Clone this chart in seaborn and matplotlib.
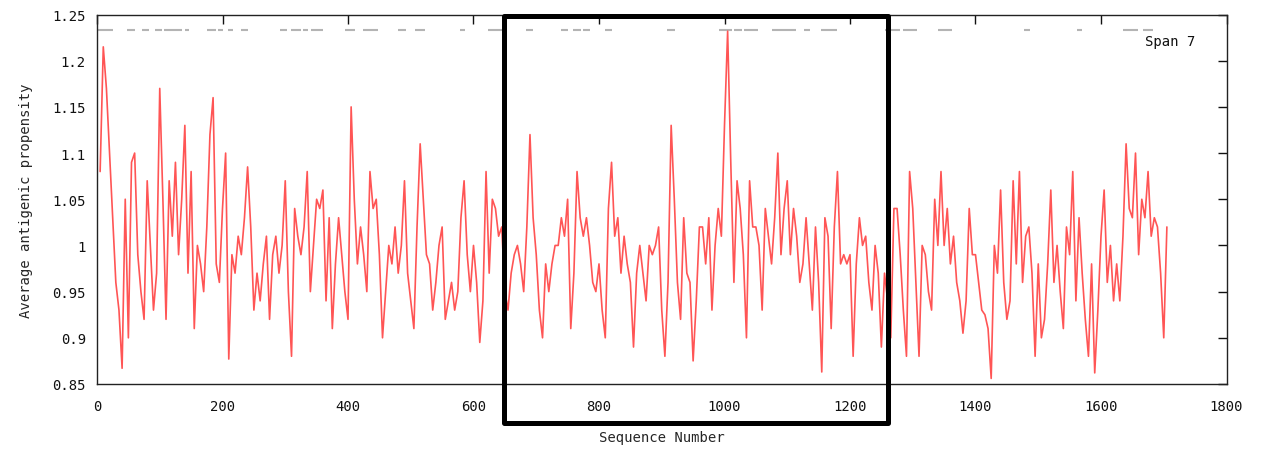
import numpy as np
import pandas as pd
import matplotlib
matplotlib.use("Agg")
import matplotlib.pyplot as plt
from matplotlib.patches import Rectangle
import seaborn as sns

# average antigenic propensity, every 5 residues (5 .. 1705)
propensity = [
    1.08, 1.215, 1.17, 1.10, 1.03, 0.96, 0.93, 0.867, 1.05, 0.90,
    1.09, 1.10, 0.99, 0.95, 0.92, 1.07, 1.00, 0.93, 0.97, 1.17,
    1.05, 0.92, 1.07, 1.01, 1.09, 0.99, 1.05, 1.13, 0.97, 1.08,
    0.91, 1.00, 0.98, 0.95, 1.02, 1.12, 1.16, 0.98, 0.96, 1.04,
    1.10, 0.877, 0.99, 0.97, 1.01, 0.99, 1.03, 1.085, 1.02, 0.93,
    0.97, 0.94, 0.98, 1.01, 0.92, 0.99, 1.01, 0.97, 1.00, 1.07,
    0.95, 0.88, 1.04, 1.01, 0.99, 1.02, 1.08, 0.95, 1.00, 1.05,
    1.04, 1.06, 0.94, 1.03, 0.91, 0.98, 1.03, 0.99, 0.95, 0.92,
    1.15, 1.05, 0.98, 1.02, 0.99, 0.95, 1.08, 1.04, 1.05, 0.99,
    0.90, 0.95, 1.00, 0.98, 1.02, 0.97, 1.00, 1.07, 0.97, 0.94,
    0.91, 1.02, 1.11, 1.05, 0.99, 0.98, 0.93, 0.96, 1.00, 1.02,
    0.92, 0.94, 0.96, 0.93, 0.95, 1.03, 1.07, 0.99, 0.95, 1.00,
    0.96, 0.895, 0.94, 1.08, 0.97, 1.05, 1.04, 1.01, 1.02, 0.95,
    0.93, 0.97, 0.99, 1.00, 0.98, 0.95, 1.02, 1.12, 1.03, 0.99,
    0.93, 0.90, 0.98, 0.95, 0.98, 1.00, 1.00, 1.03, 1.01, 1.05,
    0.91, 0.97, 1.08, 1.03, 1.01, 1.03, 1.00, 0.96, 0.95, 0.98,
    0.93, 0.90, 1.04, 1.09, 1.01, 1.03, 0.97, 1.01, 0.98, 0.96,
    0.89, 0.97, 1.00, 0.97, 0.94, 1.00, 0.99, 1.00, 1.02, 0.93,
    0.88, 0.96, 1.13, 1.05, 0.96, 0.92, 1.03, 0.97, 0.96, 0.875,
    0.94, 1.02, 1.02, 0.98, 1.03, 0.93, 1.00, 1.04, 1.01, 1.13,
    1.232, 1.09, 0.96, 1.07, 1.04, 0.99, 0.90, 1.07, 1.02, 1.02,
    1.00, 0.93, 1.04, 1.01, 0.98, 1.03, 1.10, 0.99, 1.04, 1.07,
    0.99, 1.04, 1.01, 0.96, 0.98, 1.03, 0.98, 0.93, 1.02, 0.96,
    0.863, 1.03, 1.01, 0.91, 1.02, 1.08, 0.98, 0.99, 0.98, 0.99,
    0.88, 0.98, 1.03, 1.00, 1.01, 0.96, 0.93, 1.00, 0.97, 0.89,
    0.97, 0.94, 0.90, 1.04, 1.04, 0.99, 0.93, 0.88, 1.08, 1.04,
    0.96, 0.88, 1.00, 0.99, 0.95, 0.93, 1.05, 1.00, 1.08, 1.00,
    1.04, 0.98, 1.01, 0.96, 0.94, 0.905, 0.94, 1.04, 0.99, 0.99,
    0.96, 0.93, 0.925, 0.91, 0.856, 1.00, 0.97, 1.06, 0.96, 0.92,
    0.94, 1.07, 0.98, 1.08, 0.96, 1.01, 1.02, 0.97, 0.88, 0.98,
    0.90, 0.92, 0.98, 1.06, 0.96, 1.00, 0.95, 0.91, 1.02, 0.99,
    1.08, 0.94, 1.03, 0.97, 0.92, 0.88, 0.98, 0.862, 0.93, 1.01,
    1.06, 0.96, 1.00, 0.94, 0.98, 0.94, 1.01, 1.11, 1.04, 1.03,
    1.10, 0.99, 1.05, 1.03, 1.08, 1.01, 1.03, 1.02, 0.97, 0.90,
    1.02,
]
seq_pos = np.arange(1, len(propensity) + 1) * 5

# grey marks along the top (sequence ranges)
band_start = [0, 48, 72, 93, 107, 141, 176, 193, 208, 229, 291, 309, 328, 341,
              396, 424, 480, 507, 579, 623, 683, 740, 759, 775, 810, 908, 991,
              1015, 1031, 1076, 1127, 1154, 1255, 1284, 1340, 1477, 1562, 1635, 1667]
band_end = [26, 61, 83, 104, 136, 147, 189, 200, 217, 241, 302, 325, 336, 360,
            411, 448, 492, 523, 587, 651, 695, 751, 771, 786, 820, 921, 1012,
            1028, 1053, 1114, 1137, 1180, 1279, 1306, 1362, 1487, 1570, 1659, 1683]
band_level = 1.233

x_ticks = [0, 200, 400, 600, 800, 1000, 1200, 1400, 1600, 1800]
y_ticks = [0.85, 0.9, 0.95, 1.0, 1.05, 1.1, 1.15, 1.2, 1.25]
y_labels = ["0.85", "0.9", "0.95", "1", "1.05", "1.1", "1.15", "1.2", "1.25"]

df = pd.DataFrame({"seq": seq_pos, "prop": propensity})

sns.set_style("white")
plt.rcParams["font.family"] = ["DejaVu Sans Mono", "DejaVu Sans"]

fig = plt.figure(figsize=(12.64, 4.52), dpi=100)
ax = fig.add_axes([97 / 1264, 1 - 385 / 452, 1129.5 / 1264, 369.5 / 452])

ax.hlines([band_level] * len(band_start), band_start, band_end,
          colors="#b4b4b4", linewidth=1.5)
sns.lineplot(data=df, x="seq", y="prop", ax=ax, color="#ff5555",
             linewidth=1.2, estimator=None)

ax.set_xlim(0, 1800)
ax.set_ylim(0.85, 1.25)
ax.set_xticks(x_ticks)
ax.set_xticklabels([str(t) for t in x_ticks])
ax.set_yticks(y_ticks)
ax.set_yticklabels(y_labels)
ax.tick_params(direction="in", length=6.5, width=1, top=True, right=True,
               labelsize=10, colors="#111111")
ax.tick_params(axis="x", pad=11)
ax.tick_params(axis="y", pad=8)
for sp in ax.spines.values():
    sp.set_color("#222222")
    sp.set_linewidth(1.0)

ax.set_xlabel("Sequence Number", fontsize=10, labelpad=12)
ax.set_ylabel("Average antigenic propensity", fontsize=10, labelpad=14)
ax.text(0.928, 0.928, "Span 7", transform=ax.transAxes, fontsize=10,
        ha="left", va="center", color="#111111")

# highlighted region box drawn over the figure
box = Rectangle((503.5 / 1264, 1 - 423.5 / 452), 384 / 1264, 407 / 452,
                transform=fig.transFigure, fill=False, edgecolor="black",
                linewidth=3.6, joinstyle="round", zorder=10)
fig.add_artist(box)

fig.savefig("out.png", dpi=100)
